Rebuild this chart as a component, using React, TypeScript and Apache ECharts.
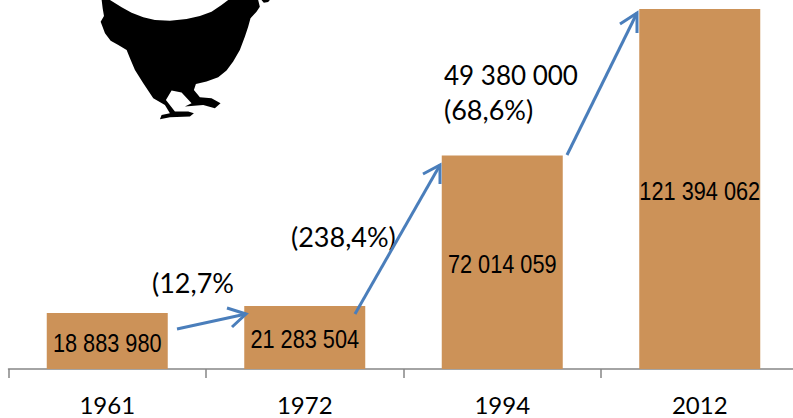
import React, { useEffect, useRef } from "react";
import * as echarts from "echarts";

const years = ["1961", "1972", "1994", "2012"];
const values = [18883980, 21283504, 72014059, 121394062];
const valueLabels = ["18 883 980", "21 283 504", "72 014 059", "121 394 062"];
const notes = [
  { text: "(12,7%", x: 152, y: 282 },
  { text: "(238,4%)", x: 291, y: 236 },
  { text: "49 380 000", x: 444, y: 75 },
  { text: "(68,6%)", x: 444, y: 109 },
];
const arrows = [
  { line: [[177, 329], [246, 314]], head: [[227, 308], [246, 314], [232, 327]] },
  { line: [[355, 314], [440, 165]], head: [[423, 174], [440, 165], [440, 184]] },
  { line: [[567, 155], [637, 13]], head: [[620, 24], [637, 13], [637, 33]] },
];
const hen = [
  [35,0],[38,25],[42,48],[32,65],[45,100],[62,122],[85,135],[110,150],[120,175],[135,210],[160,250],[190,295],[225,315],[240,340],[215,345],[210,358],
  [240,352],[300,350],[312,340],[295,335],[255,335],[228,300],[245,272],[275,278],[305,310],[285,320],[340,315],[375,325],
  [392,310],[365,295],[330,292],[312,270],[318,252],[350,245],[385,232],[410,212],[430,185],[450,150],[465,110],[475,80],[482,55],[500,35],[510,20],
  [505,0],[415,0],[395,15],[365,35],[330,48],[290,57],[240,62],[195,60],[160,52],[125,38],[95,22],[60,0],
];
const comb = [[515,0],[522,8],[535,6],[540,0]];

const BLUE = "#4a7ebb";
const SANS = "Lato, Carlito, sans-serif";

export default function App() {
  const ref = useRef<HTMLDivElement>(null);
  useEffect(() => {
    document.body.style.margin = "0";
    const chart = echarts.init(ref.current!, undefined, { renderer: "svg" });
    chart.setOption({
      animation: false,
      grid: { left: 8.5, top: 9, width: 790, height: 360 },
      xAxis: {
        type: "category",
        data: years,
        axisLine: { lineStyle: { color: "#868686", width: 1.5 } },
        axisTick: { show: true, length: 9, lineStyle: { color: "#868686", width: 1.5 } },
        axisLabel: { color: "#000", fontSize: 24, fontFamily: SANS, margin: 23, interval: 0 },
      },
      yAxis: { type: "value", min: 0, max: values[3], show: false, splitLine: { show: false } },
      series: [
        {
          type: "bar",
          data: values,
          barWidth: 121,
          itemStyle: { color: "#cc9258" },
        },
        {
          type: "custom",
          z: 5,
          data: values.map((v, i) => [i, v]),
          encode: { x: 0, y: 1 },
          renderItem: (_: any, api: any) => {
            const i = api.value(0);
            const p = api.coord([i, api.value(1) / 2]);
            return {
              type: "text",
              x: p[0],
              y: p[1] + 1.5,
              scaleX: 0.82,
              style: {
                text: valueLabels[i],
                fill: "#000",
                font: "26.5px 'Liberation Sans', sans-serif",
                textAlign: "center",
                textVerticalAlign: "middle",
              },
            };
          },
        },
      ],
      graphic: [
        ...[hen, comb].map((pts) => ({
          type: "polygon",
          x: 90,
          y: 0,
          z: 10,
          scaleX: 1 / 3,
          scaleY: 1 / 3,
          shape: { points: pts },
          style: { fill: "#000" },
        })),
        ...notes.map((n) => ({
          type: "text",
          x: n.x,
          y: n.y,
          z: 10,
          style: {
            text: n.text,
            fill: "#000",
            font: `${n.text.startsWith("(") ? 27 : 26}px ${SANS}`,
            textVerticalAlign: "middle",
          },
        })),
        ...arrows.flatMap((a) => [
          { type: "polyline", z: 10, shape: { points: a.line }, style: { stroke: BLUE, lineWidth: 3, fill: "none" } },
          { type: "polyline", z: 10, shape: { points: a.head }, style: { stroke: BLUE, lineWidth: 3, fill: "none" } },
        ]),
      ],
    });
    return () => chart.dispose();
  }, []);
  return (
    <div style={{ position: "absolute", left: 0, top: 0, width: 793, height: 418, overflow: "hidden" }}>
      <div ref={ref} style={{ width: 815, height: 418 }} />
    </div>
  );
}
